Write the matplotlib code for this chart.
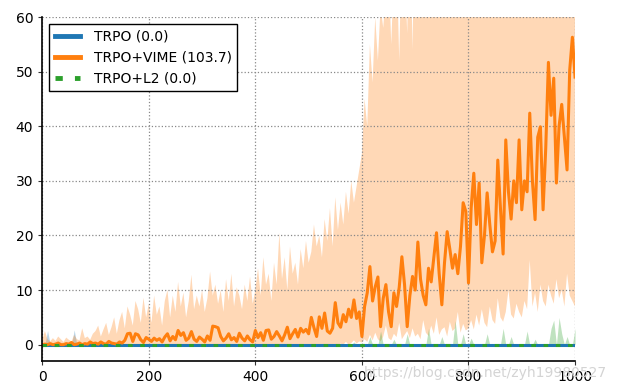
import numpy as np
import matplotlib
matplotlib.use("Agg")
import matplotlib.pyplot as plt

# iterations, sampled every 5 steps
steps = np.arange(0, 1001, 5)

labels = ["TRPO (0.0)", "TRPO+VIME (103.7)", "TRPO+L2 (0.0)"]
colors = ["#1f77b4", "#ff7f0e", "#2ca02c"]

# TRPO+VIME mean return
vime_mean = [
    0.0, 0.1, 0.0, 0.2, 0.0, 0.1, 0.3, 0.0, 0.0, 0.2, 0.1, 0.4, 0.0, 0.1, 0.3, 0.0, 0.2, 0.1, 0.5, 0.2,
    0.3, 0.1, 0.5, 0.2, 0.1, 0.6, 0.3, 0.2, 0.1, 0.5, 0.3, 0.8, 2.0, 2.1, 0.6, 2.0, 1.8, 0.9, 0.4, 1.3,
    1.0, 0.6, 1.2, 0.8, 1.1, 0.5, 1.4, 2.0, 0.7, 1.5, 0.9, 2.6, 1.7, 2.2, 0.8, 1.2, 2.4, 1.0, 0.6, 1.4,
    1.0, 0.5, 1.6, 0.8, 3.4, 3.3, 3.1, 1.5, 0.7, 1.2, 2.0, 0.9, 1.3, 0.6, 2.1, 1.2, 0.7, 1.6, 0.9, 0.5,
    2.6, 1.3, 2.2, 0.8, 2.6, 2.7, 1.0, 1.5, 2.4, 1.6, 0.7, 1.8, 3.2, 1.1, 2.0, 2.8, 1.4, 3.0, 2.3, 2.8,
    2.0, 5.0, 3.1, 1.5, 5.1, 3.0, 5.8, 2.5, 2.1, 3.0, 7.7, 4.0, 3.2, 5.5, 4.2, 6.5, 5.0, 8.2, 4.8, 6.0,
    1.5, 7.0, 9.5, 14.3, 8.0, 10.6, 12.4, 3.3, 8.5, 11.0, 6.0, 3.3, 9.5, 7.0, 10.5, 16.1, 11.0, 3.3, 9.0, 12.5,
    10.0, 18.8, 12.0, 9.0, 7.3, 14.0, 11.5, 16.0, 20.5, 13.0, 7.3, 15.0, 20.7, 17.5, 14.0, 16.5, 13.0, 18.0, 26.0, 24.4,
    11.3, 25.0, 31.4, 22.0, 29.6, 15.0, 20.0, 27.8, 22.0, 17.0, 19.0, 33.8, 25.0, 16.6, 37.5, 28.0, 23.0, 30.0, 26.0, 37.5,
    24.7, 30.0, 28.0, 42.4, 30.0, 22.9, 38.0, 39.9, 24.7, 36.0, 51.7, 42.0, 48.8, 29.6, 40.0, 44.0, 38.0, 32.0, 50.3, 56.3,
    49.0,
]

vime_upper = [
    0.8, 2.5, 1.0, 0.6, 1.2, 0.7, 1.5, 1.0, 0.5, 1.3, 0.9, 0.6, 1.8, 1.0, 0.8, 3.0, 1.2, 1.5, 0.9, 2.0,
    2.5, 3.5, 1.5, 2.8, 4.0, 1.8, 3.2, 5.0, 2.0, 4.5, 6.0, 3.0, 7.0, 5.5, 3.5, 8.0, 6.5, 4.0, 8.6, 5.0,
    7.5, 4.0, 9.0, 5.5, 7.0, 3.5, 8.0, 10.0, 5.0, 9.0, 6.0, 11.5, 7.0, 9.5, 5.0, 8.0, 12.8, 6.5, 9.0, 7.0,
    10.0, 6.0, 8.5, 13.4, 9.0, 11.0, 7.5, 10.0, 6.0, 12.0, 8.0, 13.0, 7.0, 10.5, 9.0, 6.5, 11.0, 8.0, 12.5, 7.5,
    10.0, 14.0, 9.0, 16.0, 11.0, 13.0, 8.0, 15.0, 11.0, 20.5, 12.0, 16.0, 10.0, 18.0, 13.0, 15.0, 11.0, 17.5, 14.0, 19.0,
    15.0, 17.0, 22.0, 18.0, 20.0, 16.0, 23.0, 19.0, 25.0, 18.0, 27.0, 21.0, 26.0, 22.0, 28.0, 24.0, 30.0, 26.0, 29.0, 32.0,
    35.0, 45.0, 40.0, 55.0, 48.0, 60.0, 52.0, 62.0, 58.0, 65.0, 70.0, 55.0, 68.0, 72.0, 52.0, 75.0, 70.0, 57.0, 80.0, 54.0,
    85.0, 90.0, 80.0, 88.0, 95.0, 82.0, 92.0, 100.0, 87.0, 94.0, 90.0, 98.0, 105.0, 92.0, 88.0, 100.0, 96.0, 104.0, 110.0, 102.0,
    95.0, 108.0, 115.0, 100.0, 112.0, 98.0, 105.0, 114.0, 108.0, 100.0, 104.0, 118.0, 110.0, 102.0, 120.0, 112.0, 106.0, 115.0, 110.0, 122.0,
    108.0, 114.0, 112.0, 125.0, 106.0, 120.0, 118.0, 124.0, 110.0, 135.0, 120.0, 126.0, 132.0, 114.0, 128.0, 122.0, 116.0, 134.0, 140.0, 136.0,
    132.0,
]

vime_lower = [
    0.0, 0.0, 0.0, 0.0, 0.0, 0.0, 0.0, 0.0, 0.0, 0.0, 0.0, 0.0, 0.0, 0.0, 0.0, 0.0, 0.0, 0.0, 0.0, 0.0,
    0.0, 0.0, 0.0, 0.0, 0.0, 0.0, 0.0, 0.0, 0.0, 0.0, 0.0, 0.0, 0.0, 0.0, 0.0, 0.0, 0.0, 0.0, 0.0, 0.0,
    0.0, 0.0, 0.0, 0.0, 0.0, 0.0, 0.0, 0.0, 0.0, 0.0, 0.0, 0.0, 0.0, 0.0, 0.0, 0.0, 0.0, 0.0, 0.0, 0.0,
    0.0, 0.0, 0.0, 0.0, 0.0, 0.0, 0.0, 0.0, 0.0, 0.0, 0.0, 0.0, 0.0, 0.0, 0.0, 0.0, 0.0, 0.0, 0.0, 0.0,
    0.0, 0.0, 0.0, 0.0, 0.0, 0.0, 0.0, 0.0, 0.0, 0.0, 0.0, 0.0, 0.0, 0.0, 0.0, 0.0, 0.0, 0.0, 0.0, 0.0,
    0.0, 0.0, 0.0, 0.0, 0.0, 0.0, 0.0, 0.0, 0.0, 0.0, 0.0, 0.0, 0.2, 0.0, 0.5, 0.0, 0.3, 0.8, 0.2, 0.6,
    0.4, 1.0, 0.5, 1.8, 0.8, 2.2, 1.0, 0.6, 1.5, 3.5, 1.2, 0.8, 2.0, 1.4, 4.0, 1.0, 1.8, 2.5, 1.2, 3.0,
    1.5, 2.0, 1.0, 4.5, 2.2, 1.6, 3.5, 2.0, 5.0, 1.8, 2.8, 3.2, 1.5, 4.2, 2.5, 3.0, 6.0, 2.2, 3.8, 2.6,
    3.0, 4.5, 2.8, 5.5, 3.5, 6.5, 4.0, 3.2, 7.0, 4.5, 3.8, 8.5, 5.0, 4.2, 6.0, 10.0, 5.5, 4.8, 7.5, 6.0,
    5.0, 8.0, 6.5, 15.5, 7.0, 9.5, 6.0, 11.0, 8.0, 7.0, 11.0, 9.0, 7.5, 12.0, 8.5, 10.0, 7.0, 13.0, 9.0, 8.0,
    7.0,
]

# TRPO and TRPO+L2 stay at zero, only a few thin spikes in their bands
trpo_mean = [
    0.0, 0.0, 0.0, 0.0, 0.0, 0.0, 0.0, 0.0, 0.0, 0.0, 0.0, 0.0, 0.0, 0.0, 0.0, 0.0, 0.0, 0.0, 0.0, 0.0,
    0.0, 0.0, 0.0, 0.0, 0.0, 0.0, 0.0, 0.0, 0.0, 0.0, 0.0, 0.0, 0.0, 0.0, 0.0, 0.0, 0.0, 0.0, 0.0, 0.0,
    0.0, 0.0, 0.0, 0.0, 0.0, 0.0, 0.0, 0.0, 0.0, 0.0, 0.0, 0.0, 0.0, 0.0, 0.0, 0.0, 0.0, 0.0, 0.0, 0.0,
    0.0, 0.0, 0.0, 0.0, 0.0, 0.0, 0.0, 0.0, 0.0, 0.0, 0.0, 0.0, 0.0, 0.0, 0.0, 0.0, 0.0, 0.0, 0.0, 0.0,
    0.0, 0.0, 0.0, 0.0, 0.0, 0.0, 0.0, 0.0, 0.0, 0.0, 0.0, 0.0, 0.0, 0.0, 0.0, 0.0, 0.0, 0.0, 0.0, 0.0,
    0.0, 0.0, 0.0, 0.0, 0.0, 0.0, 0.0, 0.0, 0.0, 0.0, 0.0, 0.0, 0.0, 0.0, 0.0, 0.0, 0.0, 0.0, 0.0, 0.0,
    0.0, 0.0, 0.0, 0.0, 0.0, 0.0, 0.0, 0.0, 0.0, 0.0, 0.0, 0.0, 0.0, 0.0, 0.0, 0.0, 0.0, 0.0, 0.0, 0.0,
    0.0, 0.0, 0.0, 0.0, 0.0, 0.0, 0.0, 0.0, 0.0, 0.0, 0.0, 0.0, 0.0, 0.0, 0.0, 0.0, 0.0, 0.0, 0.0, 0.0,
    0.0, 0.0, 0.0, 0.0, 0.0, 0.0, 0.0, 0.0, 0.0, 0.0, 0.0, 0.0, 0.0, 0.0, 0.0, 0.0, 0.0, 0.0, 0.0, 0.0,
    0.0, 0.0, 0.0, 0.0, 0.0, 0.0, 0.0, 0.0, 0.0, 0.0, 0.0, 0.0, 0.0, 0.0, 0.0, 0.0, 0.0, 0.0, 0.0, 0.0,
    0.0,
]
l2_mean = list(trpo_mean)

trpo_upper = [
    0.0, 0.0, 2.6, 0.0, 0.0, 0.0, 0.0, 0.0, 0.0, 0.0, 0.0, 0.0, 2.7, 0.0, 0.0, 0.0, 0.0, 0.0, 0.0, 0.0,
    0.0, 0.0, 0.0, 0.0, 0.0, 0.0, 0.0, 0.0, 0.0, 0.0, 0.0, 0.0, 0.0, 0.0, 0.0, 0.0, 0.0, 0.0, 0.0, 0.0,
    0.0, 0.0, 0.0, 0.0, 0.0, 0.0, 0.0, 0.0, 0.0, 0.0, 0.0, 0.0, 0.0, 0.0, 0.0, 0.0, 0.0, 0.0, 0.0, 0.0,
    0.0, 0.0, 0.0, 0.0, 0.0, 0.0, 0.0, 0.0, 0.0, 0.0, 0.0, 0.0, 0.0, 0.0, 0.0, 0.0, 0.0, 0.0, 0.0, 0.0,
    0.0, 0.0, 0.0, 0.0, 0.0, 0.0, 0.0, 0.0, 0.0, 0.0, 0.0, 0.0, 0.0, 0.0, 0.0, 0.0, 0.0, 0.0, 0.0, 0.0,
    0.0, 0.0, 0.0, 0.0, 0.0, 0.0, 0.0, 0.0, 0.0, 0.0, 0.0, 0.0, 0.0, 0.0, 0.0, 0.0, 0.0, 0.0, 0.0, 0.0,
    0.0, 0.0, 0.0, 0.0, 0.0, 0.0, 0.0, 0.0, 0.0, 0.0, 0.0, 0.0, 0.0, 0.0, 0.0, 0.0, 0.0, 0.0, 0.0, 0.0,
    0.0, 0.0, 0.0, 0.0, 0.0, 0.0, 0.0, 0.0, 0.0, 0.0, 0.0, 0.0, 0.0, 0.0, 0.0, 0.0, 0.0, 0.0, 0.0, 0.0,
    0.0, 0.0, 0.0, 0.0, 0.0, 0.0, 0.0, 0.0, 0.0, 0.0, 0.0, 0.0, 0.0, 0.0, 0.0, 0.0, 0.0, 0.0, 0.0, 0.0,
    0.0, 0.0, 0.0, 0.0, 0.0, 0.0, 0.0, 0.0, 0.0, 0.0, 0.0, 0.0, 0.0, 0.0, 0.0, 0.0, 0.0, 0.0, 0.0, 0.0,
    0.0,
]

l2_upper = [
    0.0, 0.0, 0.0, 0.0, 0.0, 0.0, 0.0, 0.0, 0.0, 0.0, 0.0, 0.0, 0.0, 0.0, 0.0, 0.0, 0.0, 0.0, 0.0, 0.0,
    0.0, 0.0, 0.0, 0.0, 0.0, 0.0, 0.0, 0.0, 0.0, 0.0, 0.0, 0.0, 0.0, 0.0, 0.0, 0.0, 0.0, 0.0, 0.0, 0.0,
    0.0, 0.0, 0.0, 0.0, 0.0, 0.0, 0.0, 0.0, 0.0, 0.0, 0.0, 0.0, 0.0, 0.0, 0.0, 0.0, 0.0, 0.0, 0.0, 0.0,
    0.0, 0.0, 0.0, 0.0, 0.0, 0.0, 0.0, 0.0, 0.0, 0.0, 0.0, 0.0, 0.0, 0.0, 0.0, 0.0, 0.0, 0.0, 0.0, 0.0,
    0.0, 0.0, 0.0, 0.0, 0.0, 0.0, 0.0, 0.0, 0.0, 0.0, 0.0, 0.0, 0.0, 0.0, 0.0, 0.0, 0.0, 0.0, 0.0, 0.0,
    0.0, 0.0, 0.0, 0.0, 0.0, 0.0, 0.0, 0.0, 0.0, 0.0, 0.0, 0.0, 0.0, 0.0, 0.0, 0.0, 0.0, 0.5, 0.0, 0.0,
    0.0, 0.0, 0.0, 1.5, 0.0, 0.0, 0.0, 2.5, 0.0, 0.0, 0.0, 0.0, 1.0, 0.0, 0.0, 0.0, 0.0, 2.0, 0.0, 0.0,
    0.0, 0.0, 0.0, 0.0, 0.0, 3.0, 0.0, 0.0, 0.0, 0.0, 1.5, 0.0, 0.0, 0.0, 0.0, 4.4, 0.0, 0.0, 2.0, 0.0,
    0.0, 1.2, 0.0, 0.0, 0.0, 0.0, 0.0, 2.0, 0.0, 0.0, 0.0, 0.0, 0.0, 3.0, 0.0, 0.0, 1.5, 0.0, 0.0, 0.0,
    0.0, 0.0, 2.5, 0.0, 0.0, 1.0, 0.0, 0.0, 0.0, 0.0, 0.0, 3.0, 4.5, 0.0, 5.0, 2.0, 0.0, 1.5, 0.0, 0.0,
    3.0,
]

fig = plt.figure(figsize=(6.21, 3.87), dpi=100)
ax = fig.add_axes([0.068, 0.067, 0.858, 0.889])

# shaded bands
ax.fill_between(steps, trpo_mean, trpo_upper, color=colors[0], alpha=0.3, linewidth=0)
ax.fill_between(steps, vime_lower, vime_upper, color=colors[1], alpha=0.3, linewidth=0)
ax.fill_between(steps, l2_mean, l2_upper, color=colors[2], alpha=0.3, linewidth=0)

# mean curves
ax.plot(steps, trpo_mean, color=colors[0], lw=2.2, label=labels[0])
ax.plot(steps, vime_mean, color=colors[1], lw=2.2, label=labels[1])
ax.plot(steps, l2_mean, color=colors[2], lw=2.2, ls=(0, (1.5, 2.5)), label=labels[2])

ax.set_xlim(0, 1000)
ax.set_ylim(-3, 60)
ax.set_xticks([0, 200, 400, 600, 800, 1000])
ax.set_yticks([0, 10, 20, 30, 40, 50, 60])
ax.grid(True, color="#888888", ls=":", lw=0.9)

for side in ["top", "right"]:
    ax.spines[side].set_visible(False)
for side in ["left", "bottom"]:
    ax.spines[side].set_linewidth(1.2)
ax.tick_params(labelsize=10, direction="out", length=3, color="#333333")

leg = ax.legend(loc="upper left", fontsize=10, fancybox=False, edgecolor="black",
                framealpha=1, handlelength=1.8, handletextpad=1.0, borderaxespad=0.5)
leg.get_frame().set_linewidth(1.0)
for h in leg.legend_handles:
    h.set_linewidth(3.5)

# faint watermark that sits under the right-hand tick labels
fig.text(0.585, 0.025, "https://blog.csdn.net/zyh19980527", fontsize=10, color="#d4d4d4", zorder=0)

fig.savefig("out.png", dpi=100)
